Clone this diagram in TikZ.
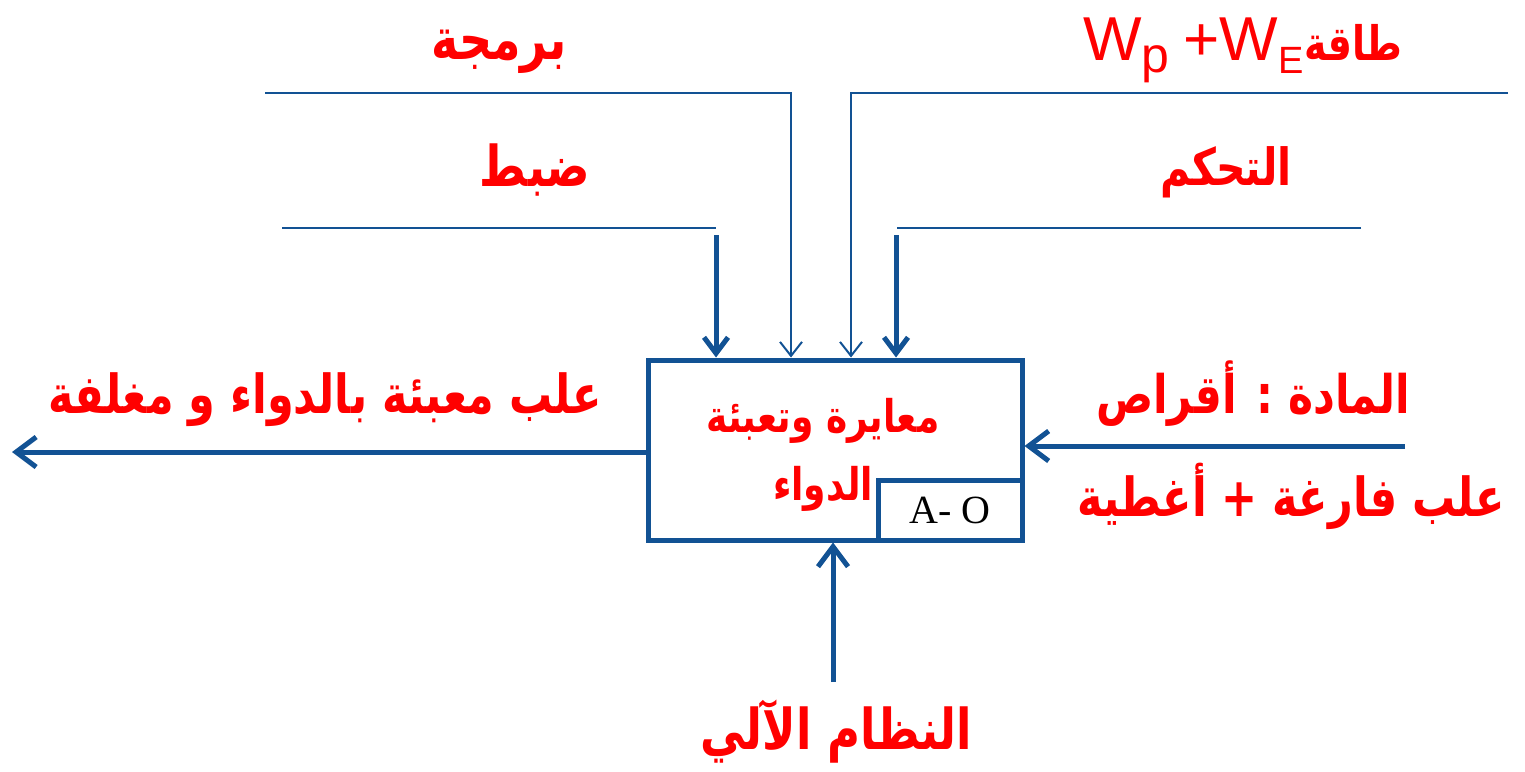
\documentclass[tikz,border=0pt]{standalone}
\usepackage{fontspec}
\setmainfont{Liberation Sans}
\newfontfamily\arabicfont[Script=Arabic]{DejaVu Sans}
\newfontfamily\seriffont{Liberation Serif}
\TeXXeTstate=1
\usetikzlibrary{arrows.meta}
\definecolor{lineblue}{RGB}{18,82,148}
\definecolor{txtred}{RGB}{255,0,0}
\newcommand{\artxt}[1]{\scalebox{1}[1.25]{\beginR #1\endR}}
\tikzset{
  ar/.style={text=txtred, font=\arabicfont\bfseries\fontsize{#1}{#1}\selectfont, inner sep=0pt},
  thinline/.style={draw=lineblue, line width=2pt},
  thinarrow/.style={thinline, -{Straight Barb[length=14pt,width=22pt]}},
  thickarrow/.style={draw=lineblue, line width=5pt, -{Straight Barb[length=16pt,width=24pt]}},
  bigarrow/.style={draw=lineblue, line width=5pt, -{Straight Barb[length=20pt,width=30pt]}},
  boxstyle/.style={draw=lineblue, line width=5pt, inner sep=0pt},
}
\begin{document}
\begin{tikzpicture}[x=1pt,y=-1pt]
\useasboundingbox[fill=white] (0,0) rectangle (1525,771);
% main box
\node[boxstyle, minimum width=374pt, minimum height=180pt] (box) at (835,450) {};
\node[boxstyle, minimum width=144pt, minimum height=60pt, anchor=south east,
      font=\seriffont\fontsize{40}{40}\selectfont] (ao) at (box.south east) {A- O};
\node[ar=36] (t1) at (823,421) {\artxt{معايرة وتعبئة}};
\node[ar=36] (t2) at (823,489) {\artxt{الدواء}};
% top controls
\coordinate (a1) at (282,228);
\coordinate (a1k) at (716,228);
\coordinate (a1s) at (716,235);
\draw[thinline] (a1) -- (a1k);
\draw[thickarrow] (a1s) -- (a1s |- box.north);
\coordinate (b1) at (265,93);
\coordinate (b1k) at (791,93);
\draw[thinarrow] (b1) -- (b1k) -- (b1k |- box.north);
\coordinate (c1) at (1508,93);
\coordinate (c1k) at (851,93);
\draw[thinarrow] (c1) -- (c1k) -- (c1k |- box.north);
\coordinate (d1) at (1361,228);
\coordinate (d1k) at (897,228);
\coordinate (d1s) at (896,235);
\draw[thinline] (d1) -- (d1k);
\draw[thickarrow] (d1s) -- (d1s |- box.north);
% labels top
\node[ar=46] (barmaja) at (499,52) {\artxt{برمجة}};
\node[ar=45] (dabt) at (535,170) {\artxt{ضبط}};
\node[ar=41] (tahakkom) at (1226,172) {\artxt{التحكم}};
\node[anchor=base west, inner sep=0pt, text=txtred] (energy) at (1083,60)
  {\fontsize{62}{62}\selectfont W\raisebox{-12pt}{\fontsize{50}{50}\selectfont p}\hspace{14pt}+W\raisebox{-13pt}{\fontsize{38}{38}\selectfont E}\hspace{1pt}{\arabicfont\bfseries\fontsize{38}{38}\selectfont\artxt{طاقة}}};
% output
\coordinate (out) at (12,452);
\draw[bigarrow] (box.west |- out) -- (out);
\node[ar=43] (outlbl) at (325,400) {\artxt{علب معبئة بالدواء و مغلفة}};
% input
\coordinate (in) at (1405,446);
\draw[bigarrow] (in) -- (box.east |- in);
\node[ar=42.5] (inlbl1) at (1253,394) {\artxt{المادة : أقراص}};
\node[ar=43] (inlbl2) at (1291,496) {\artxt{علب فارغة + أغطية}};
% mechanism
\coordinate (mech) at (833,682);
\draw[bigarrow] (mech) -- (mech |- box.south);
\node[ar=45] (mechlbl) at (836,732) {\artxt{النظام الآلي}};
\end{tikzpicture}
\end{document}
